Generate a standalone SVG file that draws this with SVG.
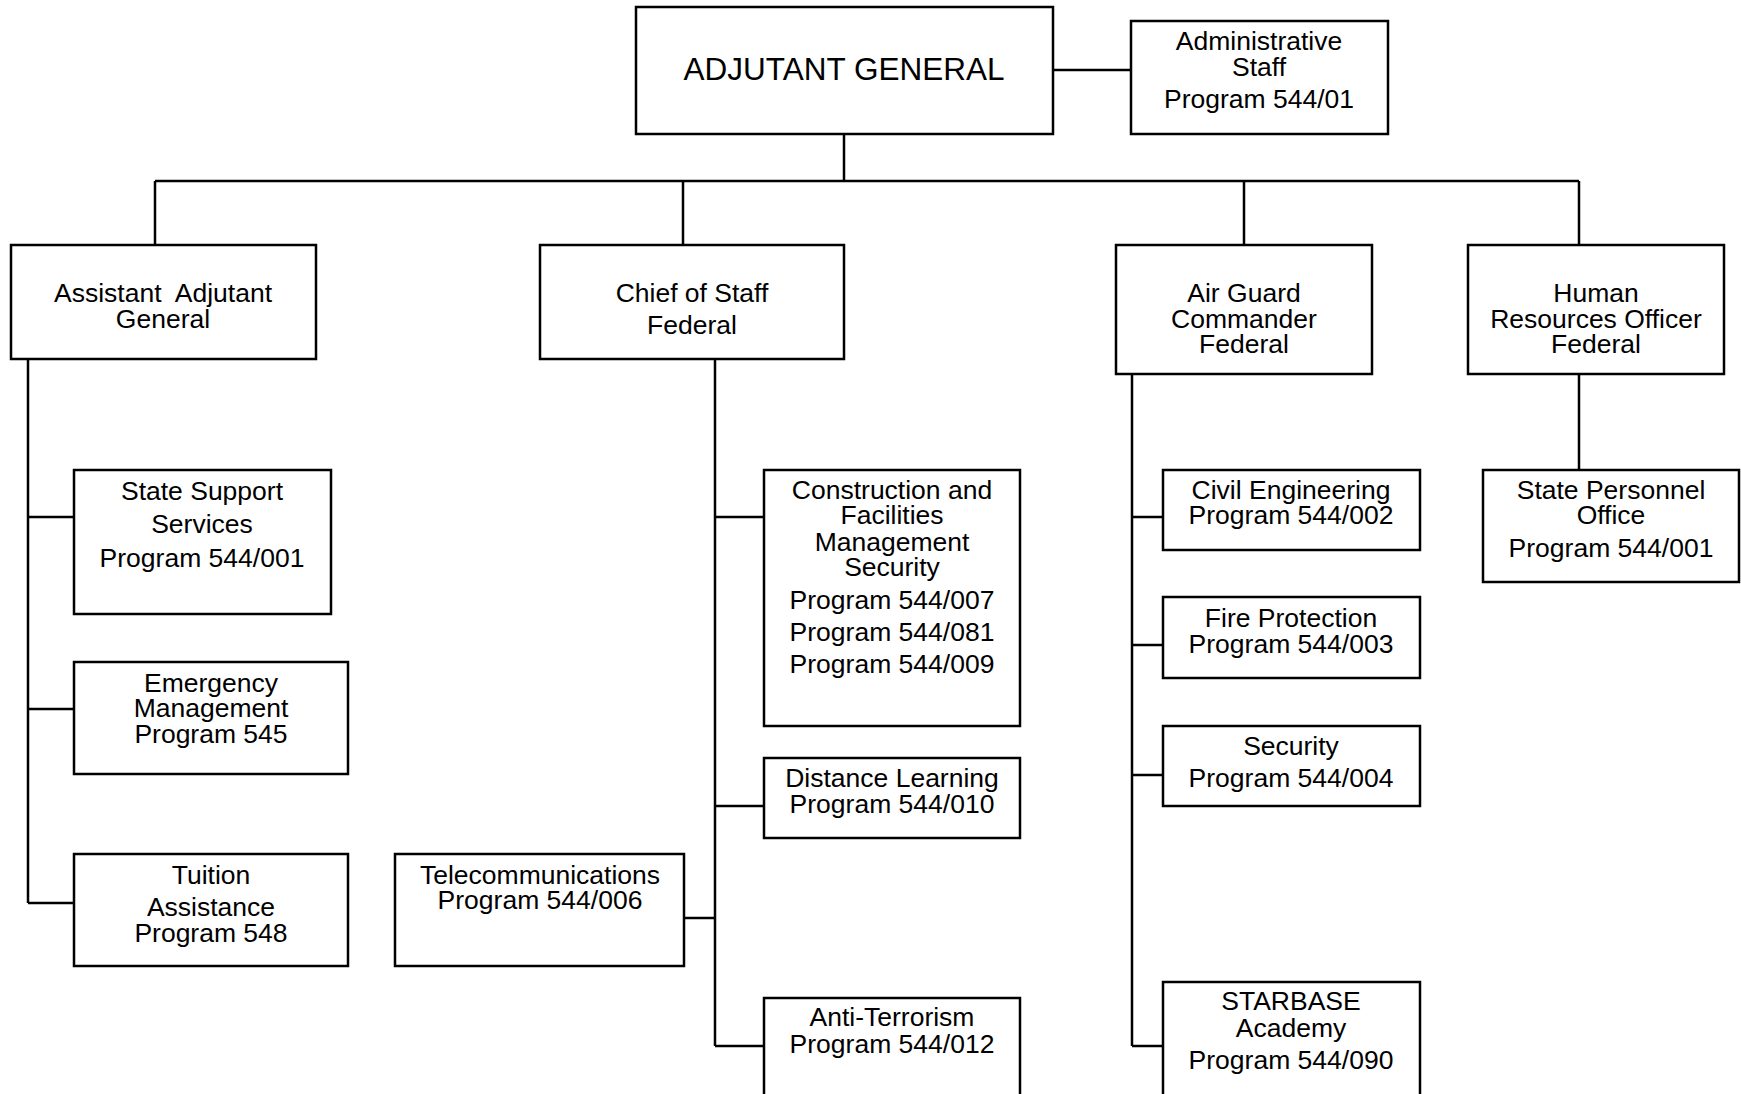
<svg xmlns="http://www.w3.org/2000/svg" width="1741" height="1094" viewBox="0 0 1741 1094">
<style>
.box{fill:#fff;stroke:#000;stroke-width:2.5}
.ln{fill:none;stroke:#000;stroke-width:2.5}
text{font-family:"Liberation Sans",Arial,sans-serif;font-size:26.5px;fill:#000;text-anchor:middle}
.big{font-size:31.5px}
</style>
<rect width="1741" height="1094" fill="#fff"/>
<g id="connectors">
<path class="ln" d="M1053 70H1131"/>
<path class="ln" d="M844 134V181"/>
<path class="ln" d="M155 181H1579"/>
<path class="ln" d="M155 181V245M683 181V245M1244 181V245M1579 181V245"/>
<path class="ln" d="M28 359V903M28 517H74M28 709H74M28 903H74"/>
<path class="ln" d="M715 359V1046M715 517H764M715 806H764M684 918H715M715 1046H764"/>
<path class="ln" d="M1132 374V1046M1132 517H1163M1132 645H1163M1132 775H1163M1132 1046H1163"/>
<path class="ln" d="M1579 374V470"/>
</g>
<g id="ag"><rect class="box" x="636" y="7" width="417" height="127"/><text class="big" x="844" y="80">ADJUTANT GENERAL</text></g>
<g id="admin"><rect class="box" x="1131" y="21" width="257" height="113"/><text x="1259" y="50">Administrative</text><text x="1259" y="76">Staff</text><text x="1259" y="108">Program 544/01</text></g>
<g id="aag"><rect class="box" x="11" y="245" width="305" height="114"/><text x="163" y="302" xml:space="preserve">Assistant  Adjutant</text><text x="163" y="328">General</text></g>
<g id="cos"><rect class="box" x="540" y="245" width="304" height="114"/><text x="692" y="302">Chief of Staff</text><text x="692" y="334">Federal</text></g>
<g id="agc"><rect class="box" x="1116" y="245" width="256" height="129"/><text x="1244" y="302">Air Guard</text><text x="1244" y="328">Commander</text><text x="1244" y="353">Federal</text></g>
<g id="hro"><rect class="box" x="1468" y="245" width="256" height="129"/><text x="1596" y="302">Human</text><text x="1596" y="328">Resources Officer</text><text x="1596" y="353">Federal</text></g>
<g id="sss"><rect class="box" x="74" y="470" width="257" height="144"/><text x="202" y="500">State Support</text><text x="202" y="533">Services</text><text x="202" y="567">Program 544/001</text></g>
<g id="em"><rect class="box" x="74" y="662" width="274" height="112"/><text x="211" y="692">Emergency</text><text x="211" y="717">Management</text><text x="211" y="743">Program 545</text></g>
<g id="ta"><rect class="box" x="74" y="854" width="274" height="112"/><text x="211" y="884">Tuition</text><text x="211" y="916">Assistance</text><text x="211" y="942">Program 548</text></g>
<g id="cfm"><rect class="box" x="764" y="470" width="256" height="256"/><text x="892" y="499">Construction and</text><text x="892" y="524">Facilities</text><text x="892" y="551">Management</text><text x="892" y="576">Security</text><text x="892" y="609">Program 544/007</text><text x="892" y="641">Program 544/081</text><text x="892" y="673">Program 544/009</text></g>
<g id="dl"><rect class="box" x="764" y="758" width="256" height="80"/><text x="892" y="787">Distance Learning</text><text x="892" y="813">Program 544/010</text></g>
<g id="tel"><rect class="box" x="395" y="854" width="289" height="112"/><text x="540" y="884">Telecommunications</text><text x="540" y="909">Program 544/006</text></g>
<g id="at"><rect class="box" x="764" y="998" width="256" height="110"/><text x="892" y="1026">Anti-Terrorism</text><text x="892" y="1053">Program 544/012</text></g>
<g id="ce"><rect class="box" x="1163" y="470" width="257" height="80"/><text x="1291" y="499">Civil Engineering</text><text x="1291" y="524">Program 544/002</text></g>
<g id="fp"><rect class="box" x="1163" y="597" width="257" height="81"/><text x="1291" y="627">Fire Protection</text><text x="1291" y="653">Program 544/003</text></g>
<g id="sec"><rect class="box" x="1163" y="726" width="257" height="80"/><text x="1291" y="755">Security</text><text x="1291" y="787">Program 544/004</text></g>
<g id="sb"><rect class="box" x="1163" y="982" width="257" height="126"/><text x="1291" y="1010">STARBASE</text><text x="1291" y="1037">Academy</text><text x="1291" y="1069">Program 544/090</text></g>
<g id="spo"><rect class="box" x="1483" y="470" width="256" height="112"/><text x="1611" y="499">State Personnel</text><text x="1611" y="524">Office</text><text x="1611" y="557">Program 544/001</text></g>
</svg>
